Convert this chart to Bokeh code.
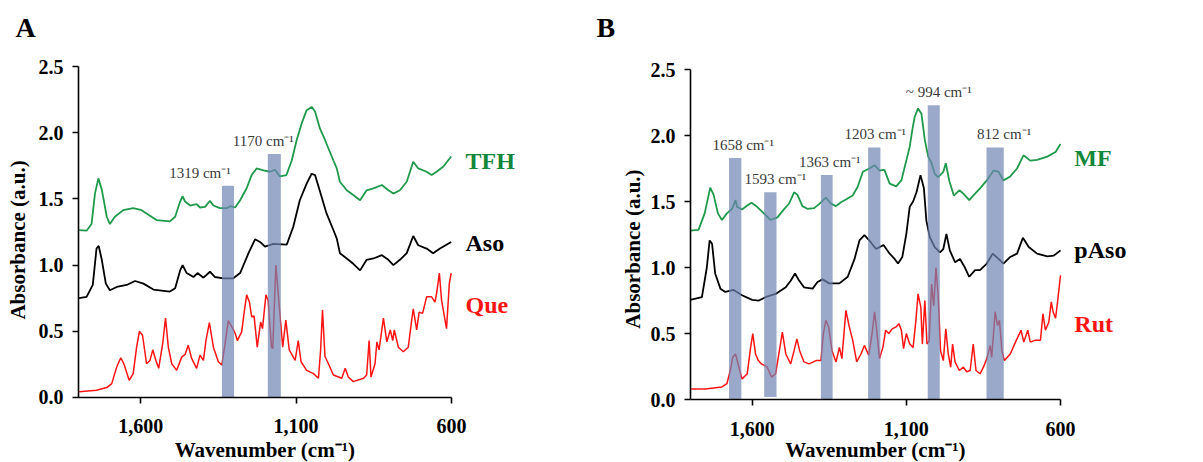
from bokeh.plotting import figure
from bokeh.layouts import row
from bokeh.models import Range1d, FixedTicker, NumeralTickFormatter, Label
from bokeh.embed import file_html
from bokeh.resources import INLINE

# ---------------- Panel A data ----------------
tfh_wn = [1798,1774,1758,1747,1736,1725,1709,1699,1683,1656,1624,1597,1575,1549,1506,1489,1473,1465,1457,1441,1420,1409,1393,1377,1366,1345,1323,1312,1296,1280,1259,1243,1227,1205,1184,1168,1152,1131,1114,1098,1082,1066,1050,1039,1023,1007,980,969,959,937,916,894,873,851,824,803,787,766,744,723,707,680,664,648,626,601]
tfh_abs = [1.264,1.26,1.31,1.54,1.655,1.57,1.365,1.31,1.365,1.415,1.43,1.415,1.38,1.34,1.33,1.365,1.48,1.52,1.48,1.45,1.46,1.435,1.44,1.485,1.45,1.43,1.43,1.445,1.435,1.49,1.58,1.68,1.73,1.715,1.705,1.72,1.67,1.68,1.79,1.945,2.07,2.17,2.195,2.16,2.03,1.945,1.79,1.73,1.63,1.565,1.53,1.49,1.565,1.58,1.605,1.565,1.54,1.565,1.63,1.78,1.73,1.705,1.68,1.705,1.745,1.82]

aso_wn = [1798,1774,1754,1742,1735,1725,1712,1699,1677,1645,1618,1591,1559,1506,1489,1473,1465,1452,1430,1417,1398,1377,1361,1334,1302,1280,1253,1232,1216,1200,1173,1130,1109,1088,1066,1050,1039,1023,1002,980,969,959,937,916,894,873,851,824,803,787,766,744,723,707,680,659,637,601]
aso_abs = [0.75,0.76,0.85,1.125,1.145,1.04,0.86,0.81,0.835,0.85,0.88,0.86,0.815,0.80,0.825,0.96,1.0,0.94,0.91,0.94,0.905,0.95,0.91,0.90,0.90,0.94,1.09,1.195,1.175,1.14,1.16,1.155,1.29,1.49,1.615,1.69,1.68,1.555,1.39,1.265,1.2,1.09,1.05,1.01,0.96,1.04,1.05,1.075,1.04,1.0,1.04,1.09,1.22,1.15,1.125,1.09,1.125,1.175]

que_wn = [1798,1742,1709,1693,1677,1664,1654,1637,1624,1613,1604,1594,1581,1570,1561,1551,1542,1529,1520,1511,1500,1484,1468,1457,1447,1436,1420,1409,1398,1390,1379,1366,1350,1339,1329,1318,1307,1296,1289,1275,1266,1259,1250,1243,1235,1225,1214,1208,1197,1190,1179,1175,1165,1154,1143,1133,1122,1103,1093,1084,1066,1044,1028,1021,1015,1007,996,980,953,942,932,916,883,873,865,859,846,840,833,819,808,797,789,784,771,755,739,728,723,712,704,693,680,664,653,648,639,632,616,607,601]
que_abs = [0.043,0.055,0.075,0.105,0.23,0.30,0.255,0.13,0.18,0.38,0.50,0.47,0.255,0.28,0.36,0.28,0.22,0.41,0.60,0.38,0.255,0.205,0.305,0.325,0.395,0.295,0.22,0.32,0.28,0.43,0.565,0.38,0.27,0.245,0.395,0.58,0.535,0.485,0.43,0.495,0.66,0.775,0.72,0.61,0.615,0.38,0.57,0.52,0.775,0.735,0.38,0.37,1.0,0.685,0.38,0.585,0.36,0.28,0.43,0.27,0.205,0.18,0.145,0.36,0.66,0.31,0.255,0.17,0.145,0.22,0.155,0.12,0.145,0.17,0.43,0.155,0.255,0.42,0.36,0.60,0.42,0.51,0.43,0.51,0.38,0.345,0.38,0.585,0.67,0.51,0.645,0.635,0.76,0.76,0.72,0.785,0.94,0.735,0.52,0.86,0.94]

a_band_wn = [1319, 1170]
a_band_top = [1.60, 1.84]
a_band_bottom = [0.0, 0.0]
a_band_width = [39, 42]
a_band_text = ["1319 cm\u207b\u00b9", "1170 cm\u207b\u00b9"]
a_names = ["TFH", "Aso", "Que"]
a_name_y = [1.79, 1.17, 0.695]

# ---------------- Panel B data ----------------
mf_wn = [1801,1774,1754,1736,1725,1711,1698,1682,1665,1654,1649,1633,1616,1602,1584,1562,1540,1518,1497,1480,1464,1453,1437,1421,1399,1383,1361,1345,1328,1312,1296,1274,1258,1241,1220,1203,1187,1171,1154,1133,1116,1100,1089,1080,1073,1062,1051,1040,1029,1018,1008,997,980,972,961,946,928,915,896,877,861,839,817,801,785,763,741,720,698,676,643,616,600]
mf_abs = [1.28,1.285,1.41,1.605,1.55,1.41,1.36,1.41,1.445,1.51,1.46,1.44,1.47,1.49,1.46,1.41,1.36,1.38,1.44,1.485,1.57,1.55,1.465,1.445,1.45,1.48,1.53,1.485,1.465,1.495,1.515,1.545,1.61,1.725,1.75,1.775,1.735,1.74,1.635,1.615,1.66,1.81,1.915,2.05,2.14,2.205,2.165,1.965,1.84,1.79,1.71,1.685,1.725,1.79,1.66,1.545,1.585,1.56,1.51,1.56,1.60,1.66,1.735,1.725,1.66,1.69,1.75,1.85,1.81,1.815,1.84,1.875,1.935]

paso_wn = [1801,1763,1747,1738,1730,1720,1703,1687,1660,1633,1600,1578,1557,1524,1491,1475,1461,1450,1432,1404,1388,1372,1350,1317,1290,1268,1252,1236,1220,1198,1174,1154,1138,1127,1113,1100,1089,1078,1067,1054,1043,1035,1024,1008,991,980,970,959,942,926,910,896,877,861,839,820,801,785,763,741,722,703,676,643,622,600]
paso_abs = [0.755,0.775,1.0,1.205,1.18,0.955,0.84,0.815,0.83,0.79,0.755,0.75,0.775,0.80,0.85,0.90,0.955,0.91,0.85,0.84,0.89,0.91,0.88,0.88,0.93,1.065,1.205,1.245,1.205,1.14,1.17,1.105,1.065,1.03,1.08,1.255,1.46,1.50,1.57,1.70,1.60,1.355,1.23,1.155,1.115,1.14,1.255,1.13,1.04,1.065,1.0,0.93,0.98,0.98,1.03,1.105,1.065,1.03,1.08,1.105,1.225,1.155,1.105,1.085,1.09,1.13]

rut_wn = [1801,1752,1698,1682,1671,1663,1654,1643,1633,1616,1605,1598,1589,1580,1570,1562,1551,1537,1524,1510,1502,1491,1475,1464,1455,1446,1432,1415,1393,1377,1369,1361,1352,1341,1328,1317,1309,1296,1285,1274,1261,1247,1236,1222,1211,1203,1196,1187,1176,1167,1157,1146,1133,1124,1116,1109,1100,1089,1078,1069,1062,1053,1048,1040,1033,1026,1018,1011,1004,997,989,980,972,964,956,950,942,928,915,904,893,883,874,861,850,839,828,823,812,804,798,790,782,763,746,728,719,706,698,682,665,657,649,638,630,624,616,609,600]
rut_abs = [0.08,0.08,0.095,0.12,0.22,0.32,0.345,0.245,0.155,0.195,0.395,0.50,0.345,0.295,0.27,0.26,0.245,0.17,0.195,0.395,0.51,0.345,0.27,0.37,0.46,0.37,0.285,0.27,0.295,0.295,0.50,0.60,0.55,0.37,0.285,0.395,0.31,0.675,0.55,0.45,0.285,0.345,0.41,0.335,0.50,0.665,0.525,0.31,0.395,0.525,0.50,0.535,0.55,0.575,0.525,0.385,0.50,0.42,0.395,0.60,0.80,0.70,0.42,0.75,0.42,0.445,0.875,0.71,1.0,0.80,0.37,0.295,0.535,0.345,0.245,0.42,0.285,0.22,0.245,0.21,0.22,0.42,0.22,0.195,0.245,0.31,0.41,0.32,0.665,0.56,0.60,0.37,0.295,0.345,0.435,0.525,0.435,0.525,0.435,0.45,0.45,0.65,0.525,0.585,0.74,0.665,0.615,0.75,0.94]

b_band_wn = [1655, 1541, 1358, 1204, 1011, 812]
b_band_top = [1.83, 1.57, 1.70, 1.91, 2.23, 1.91]
b_band_bottom = [0.0, 0.02, 0.0, 0.0, 0.0, 0.0]
b_band_width = [40, 40, 38, 40, 39, 56]
b_band_text = ["1658 cm\u207b\u00b9", "1593 cm\u207b\u00b9", "1363 cm\u207b\u00b9",
               "1203 cm\u207b\u00b9", "~ 994 cm\u207b\u00b9", "812 cm\u207b\u00b9"]
b_names = ["MF", "pAso", "Rut"]
b_name_y = [1.83, 1.13, 0.575]

y_ticks = [0.0, 0.5, 1.0, 1.5, 2.0, 2.5]
x_ticks = [1600, 1100, 600]

GREEN_LINE = "#1e9a4a"
GREEN_TEXT = "#13873a"
RED = "#ff1414"
BAR = "#6f84b4"
ANNOT = "#3a3a3a"
SERIF = "Liberation Serif"


def make_panel(width, height, xr, yr, series, names, name_y, bands, band_text, label_dx,
               letter, letter_pos, ylab_pos, xlab_y):
    # the frame fills the whole canvas; the axes are pinned at x=1800 and y=0
    p = figure(width=width, height=height, min_border=0, x_range=Range1d(*xr),
               y_range=Range1d(*yr), output_backend="svg", toolbar_location=None)
    p.outline_line_color = None
    p.grid.visible = False
    p.background_fill_color = "white"
    p.border_fill_color = "white"
    for ax in (p.xaxis[0], p.yaxis[0]):
        ax.axis_line_width = 1.6
        ax.major_tick_line_width = 1.6
        ax.major_tick_out = 6
        ax.major_tick_in = 0
        ax.minor_tick_line_color = None
        ax.major_label_text_font = SERIF
        ax.major_label_text_font_style = "bold"
        ax.major_label_text_font_size = "20px"
        ax.major_label_text_color = "black"
    p.xaxis.fixed_location = 0
    p.xaxis.bounds = (600, 1800)
    p.xaxis.ticker = FixedTicker(ticks=x_ticks)
    p.xaxis.formatter = NumeralTickFormatter(format="0,0")
    p.xaxis.major_label_standoff = 16
    p.yaxis.fixed_location = 1800
    p.yaxis.bounds = (0, 2.5)
    p.yaxis.ticker = FixedTicker(ticks=y_ticks)
    p.yaxis.formatter = NumeralTickFormatter(format="0.0")
    p.yaxis.major_label_standoff = 9

    colors = [GREEN_LINE, "black", RED]
    widths = [1.8, 1.8, 1.5]
    for (wn, ab), c, w in zip(series, colors, widths):
        p.line(wn, ab, line_color=c, line_width=w)

    bwn, btop, bbot, bw = bands
    p.vbar(x=bwn, width=bw, top=btop, bottom=bbot, fill_color=BAR, fill_alpha=0.7, line_color=None)

    for xw, yt, t, dx in zip(bwn, btop, band_text, label_dx):
        p.add_layout(Label(x=xw, y=yt, text=t, x_offset=dx, y_offset=5, text_align="center",
                           text_baseline="bottom", text_font=SERIF, text_font_size="15px",
                           text_color=ANNOT))

    name_colors = [GREEN_TEXT, "black", RED]
    for t, yv, c in zip(names, name_y, name_colors):
        p.add_layout(Label(x=555, y=yv, text=t, text_align="left", text_baseline="middle",
                           text_font=SERIF, text_font_style="bold", text_font_size="24px",
                           text_color=c))

    p.add_layout(Label(x=ylab_pos[0], y=ylab_pos[1], text="Absorbance (a.u.)", angle=1.5708,
                       text_align="center", text_baseline="middle", text_font=SERIF,
                       text_font_style="bold", text_font_size="21px", text_color="black"))
    p.add_layout(Label(x=1200, y=xlab_y, text="Wavenumber (cm\u207b\u00b9)", text_align="center",
                       text_baseline="middle", text_font=SERIF, text_font_style="bold",
                       text_font_size="21px", text_color="black"))
    p.add_layout(Label(x=letter_pos[0], y=letter_pos[1], text=letter, text_align="left",
                       text_baseline="middle", text_font=SERIF, text_font_style="bold",
                       text_font_size="28px", text_color="black"))
    return p


pa = make_panel(590, 462, (2050.9, 152.8), (-0.491, 2.9985),
                [(tfh_wn, tfh_abs), (aso_wn, aso_abs), (que_wn, que_abs)],
                a_names, a_name_y,
                (a_band_wn, a_band_top, a_band_bottom, a_band_width), a_band_text,
                [-28, -11], "A", (2002.7, 2.795), (1996, 1.19), -0.40)
pb = make_panel(597, 462, (2124.3, 188.1), (-0.477, 3.0227),
                [(mf_wn, mf_abs), (paso_wn, paso_abs), (rut_wn, rut_abs)],
                b_names, b_name_y,
                (b_band_wn, b_band_top, b_band_bottom, b_band_width), b_band_text,
                [8, 5, 3, 1, 5, 9], "B", (2104.9, 2.818), (1984.9, 1.14), -0.386)

layout = row(pa, pb)
open("out.html", "w").write(file_html(layout, INLINE))
